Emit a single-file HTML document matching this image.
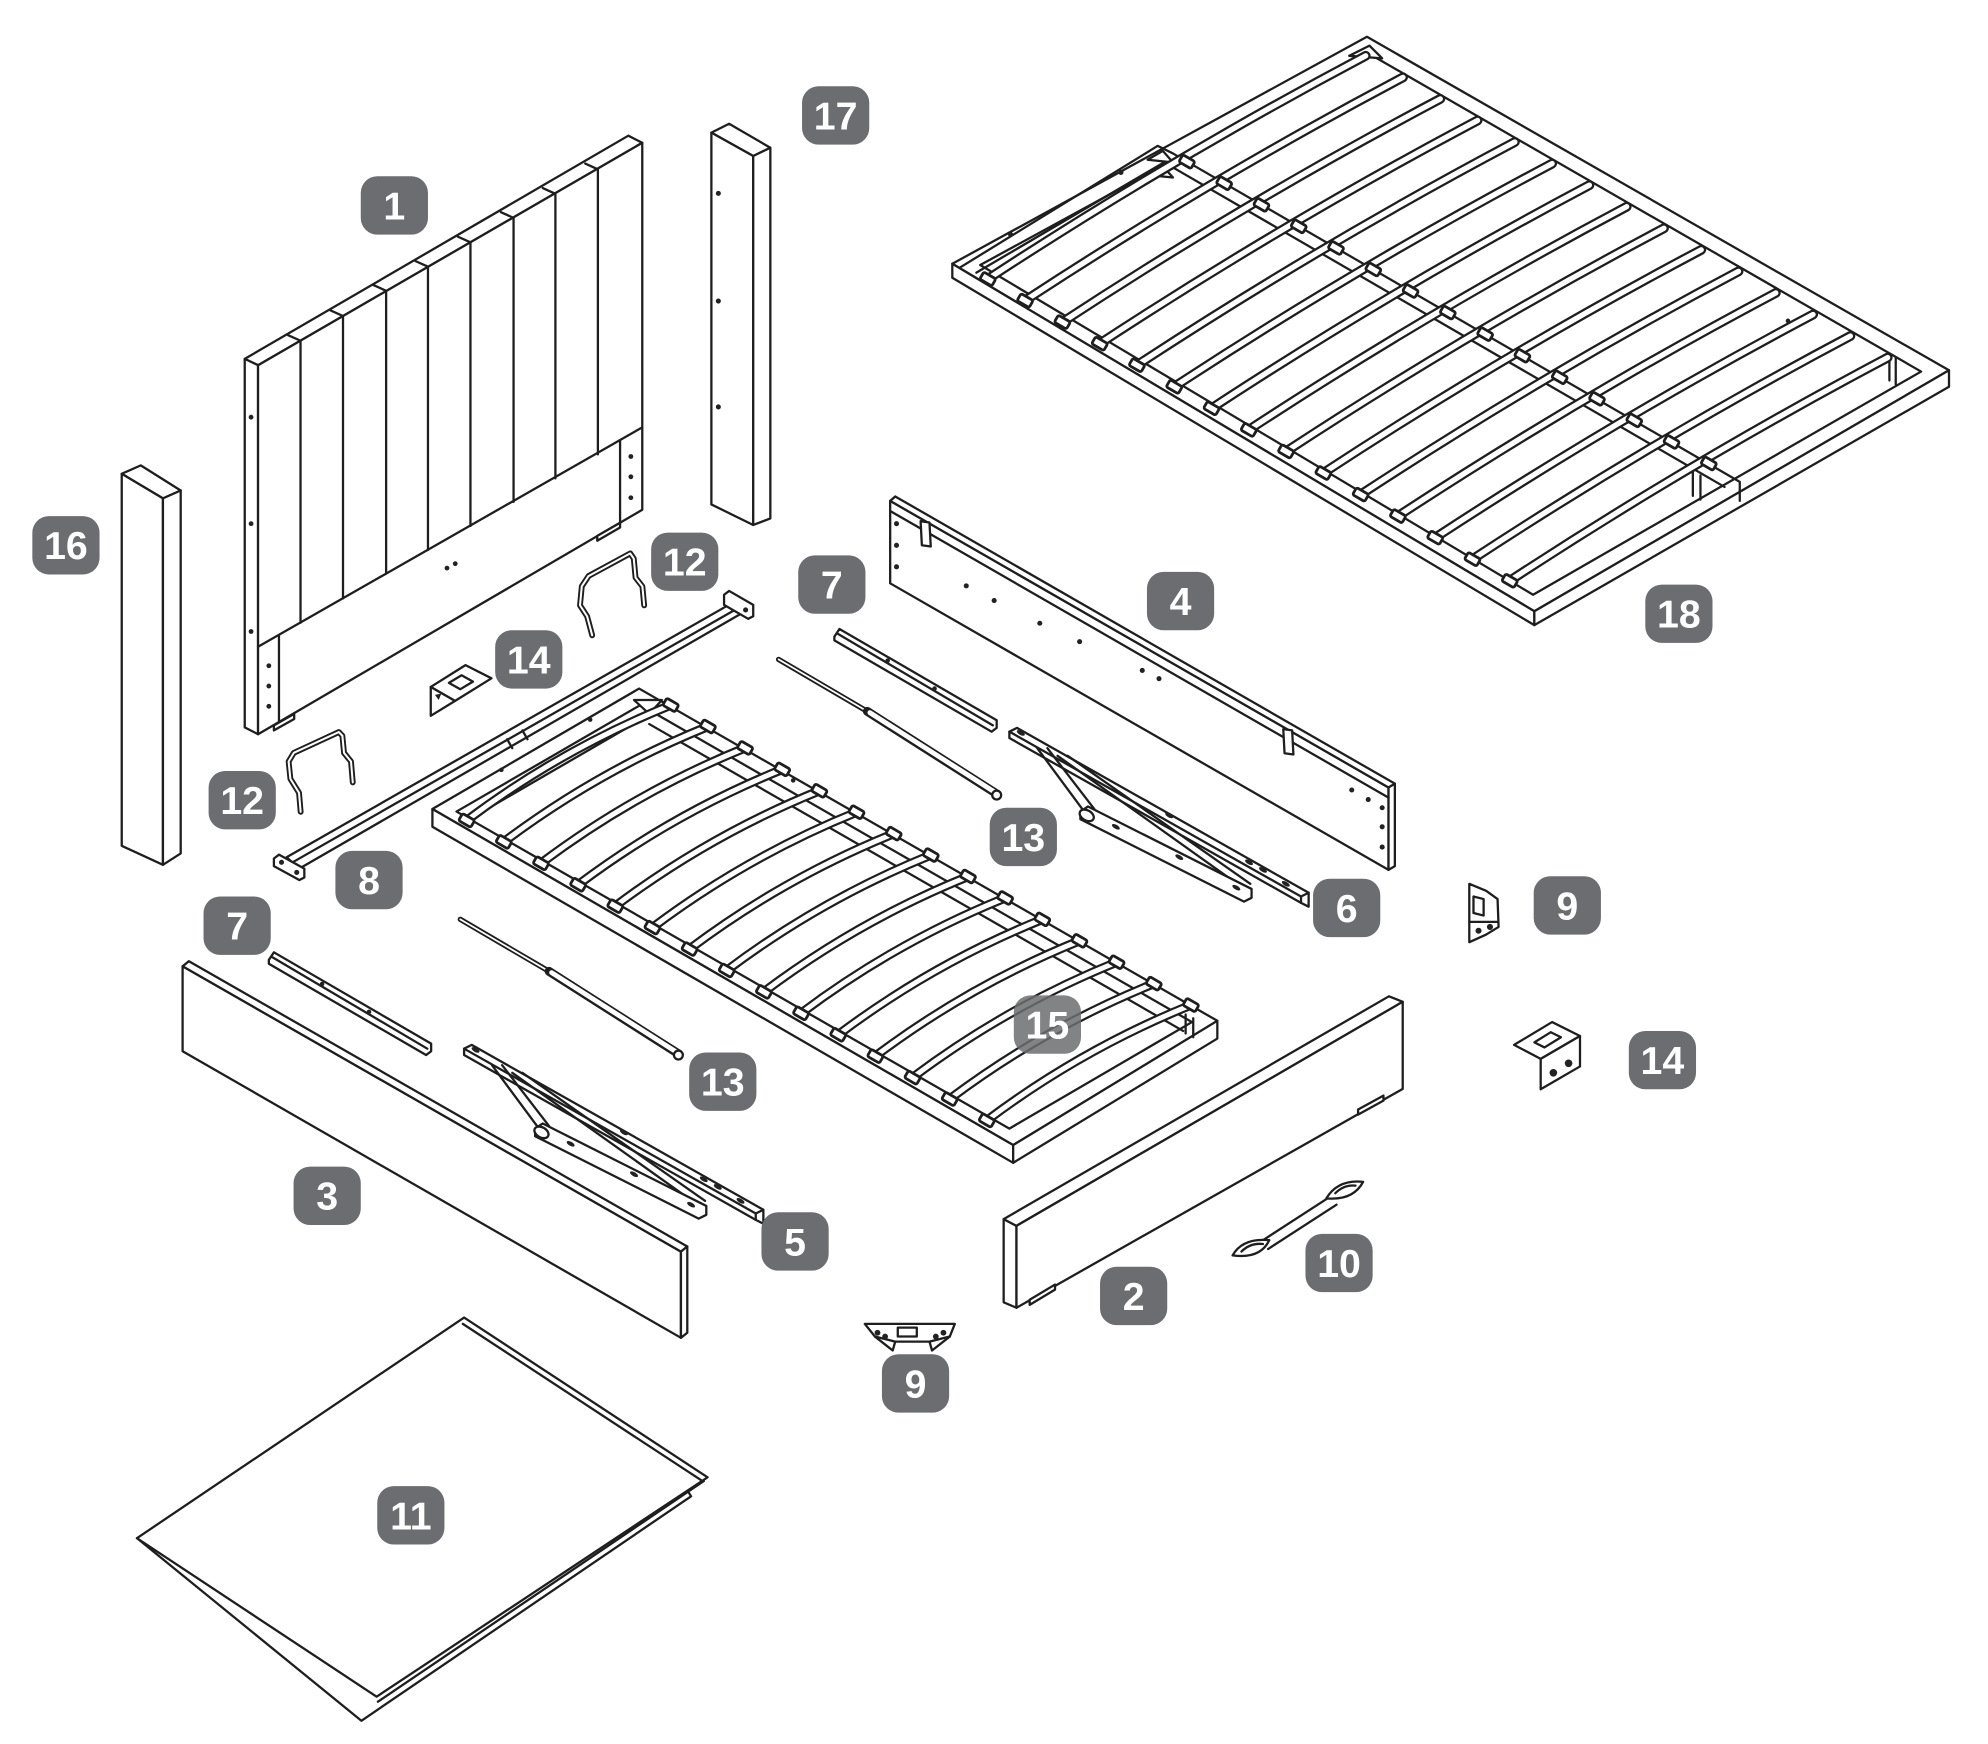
<!DOCTYPE html>
<html><head><meta charset="utf-8">
<style>
html,body{margin:0;padding:0;background:#fff;}
svg{display:block;}
.lb text{font-family:"Liberation Sans",Arial,sans-serif;font-weight:bold;font-size:31px;fill:#fff;text-anchor:middle;}
.lb rect{fill:#6c6d70;stroke:none;}
</style></head>
<body>
<svg width="1988" height="1744" viewBox="0 0 1556 1365" xmlns="http://www.w3.org/2000/svg">
<defs>
  <path id="sl18" d="M779,220 Q924,125 1077,44"/>
  <path id="sl15" d="M368,647 Q442.5,591 529,556"/>
  <rect id="ck" x="-5.5" y="-3.2" width="11" height="6.4" rx="1.5" transform="rotate(30)"/>
  <g id="g18">
    <use href="#sl18"/><use href="#sl18" x="29.4" y="17"/><use href="#sl18" x="58.8" y="34"/><use href="#sl18" x="88.2" y="51"/><use href="#sl18" x="117.6" y="68"/><use href="#sl18" x="147" y="85"/><use href="#sl18" x="176.4" y="102"/><use href="#sl18" x="205.8" y="119"/><use href="#sl18" x="235.2" y="136"/><use href="#sl18" x="264.6" y="153"/><use href="#sl18" x="294" y="170"/><use href="#sl18" x="323.4" y="187"/><use href="#sl18" x="352.8" y="204"/><use href="#sl18" x="382.2" y="221"/><use href="#sl18" x="411.6" y="238"/>
  </g>
  <g id="g15">
    <use href="#sl15"/><use href="#sl15" x="29.3" y="16.9"/><use href="#sl15" x="58.6" y="33.8"/><use href="#sl15" x="87.9" y="50.7"/><use href="#sl15" x="117.2" y="67.6"/><use href="#sl15" x="146.5" y="84.5"/><use href="#sl15" x="175.8" y="101.4"/><use href="#sl15" x="205.1" y="118.3"/><use href="#sl15" x="234.4" y="135.2"/><use href="#sl15" x="263.7" y="152.1"/><use href="#sl15" x="293" y="169"/><use href="#sl15" x="322.3" y="185.9"/><use href="#sl15" x="351.6" y="202.8"/><use href="#sl15" x="380.9" y="219.7"/><use href="#sl15" x="410.2" y="236.6"/>
  </g>
  <g id="ck18">
    <use href="#ck"/><use href="#ck" x="29.4" y="17"/><use href="#ck" x="58.8" y="34"/><use href="#ck" x="88.2" y="51"/><use href="#ck" x="117.6" y="68"/><use href="#ck" x="147" y="85"/><use href="#ck" x="176.4" y="102"/><use href="#ck" x="205.8" y="119"/><use href="#ck" x="235.2" y="136"/><use href="#ck" x="264.6" y="153"/><use href="#ck" x="294" y="170"/><use href="#ck" x="323.4" y="187"/><use href="#ck" x="352.8" y="204"/><use href="#ck" x="382.2" y="221"/><use href="#ck" x="411.6" y="238"/>
  </g>
  <g id="ck15">
    <use href="#ck"/><use href="#ck" x="29.3" y="16.9"/><use href="#ck" x="58.6" y="33.8"/><use href="#ck" x="87.9" y="50.7"/><use href="#ck" x="117.2" y="67.6"/><use href="#ck" x="146.5" y="84.5"/><use href="#ck" x="175.8" y="101.4"/><use href="#ck" x="205.1" y="118.3"/><use href="#ck" x="234.4" y="135.2"/><use href="#ck" x="263.7" y="152.1"/><use href="#ck" x="293" y="169"/><use href="#ck" x="322.3" y="185.9"/><use href="#ck" x="351.6" y="202.8"/><use href="#ck" x="380.9" y="219.7"/><use href="#ck" x="410.2" y="236.6"/>
  </g>
  <g id="p6">
    <polygon points="796,577 802,574 1032,704 1032,715 1026,712 796,582"/>
    <polyline points="796,577 1026,707 1032,704" fill="none"/>
    <line x1="1026" y1="707" x2="1026" y2="712"/>
    <line x1="818" y1="590" x2="855" y2="640"/>
    <line x1="826" y1="590" x2="863" y2="638"/>
    <line x1="834" y1="596" x2="980" y2="700"/>
    <line x1="842" y1="596" x2="986" y2="697"/>
    <polygon points="852,640 858,636 987,701 987,708 981,711 852,646"/>
    <ellipse cx="857" cy="643" rx="6" ry="4" transform="rotate(30 857 643)"/>
    <g fill="#222" stroke="none">
      <ellipse cx="805" cy="578" rx="3.5" ry="1.6" transform="rotate(30 805 578)"/>
      <ellipse cx="922" cy="643" rx="3.5" ry="1.6" transform="rotate(30 922 643)"/>
      <ellipse cx="985" cy="680" rx="3.5" ry="1.6" transform="rotate(30 985 680)"/>
      <ellipse cx="996" cy="686" rx="3.5" ry="1.6" transform="rotate(30 996 686)"/>
      <ellipse cx="1014" cy="697" rx="3.5" ry="1.6" transform="rotate(30 1014 697)"/>
      <ellipse cx="880" cy="652" rx="3.5" ry="1.6" transform="rotate(30 880 652)"/>
      <ellipse cx="930" cy="676" rx="3.5" ry="1.6" transform="rotate(30 930 676)"/>
      <ellipse cx="975" cy="700" rx="3.5" ry="1.6" transform="rotate(30 975 700)"/>
    </g>
  </g>
  <g id="p7">
    <polygon points="658,502 662,496 786,568 786,574 782,577 658,505"/>
    <line x1="661" y1="500" x2="783" y2="572"/>
    <g fill="#222" stroke="none"><circle cx="700" cy="521" r="1.8"/><circle cx="737" cy="543" r="1.8"/></g>
  </g>
  <g id="p13">
    <line x1="614" y1="520" x2="684" y2="561" stroke-width="4.2"/>
    <line x1="614" y1="520" x2="684" y2="561" stroke="#fff" stroke-width="1.4"/>
    <line x1="684" y1="561" x2="786" y2="626" stroke-width="7"/>
    <line x1="686" y1="562" x2="785" y2="625" stroke="#fff" stroke-width="3.8"/>
    <circle cx="786" cy="627" r="3.5"/>
  </g>
</defs>

<rect width="1556" height="1365" fill="#fff"/>

<g transform="scale(0.9925)">
<g fill="#fff" stroke="#1e1e1e" stroke-width="1.8" stroke-linejoin="round" stroke-linecap="round">

<!-- ===== Part 18 ===== -->
<polygon points="751,208 1078,29 1537,292 1210,482"/>
<polygon points="751,208 1210,482 1210,493 751,219"/>
<polygon points="1210,482 1537,292 1537,305 1210,493"/>
<polygon points="773,209 1079,42 1515,293 1209,469"/>
<polyline points="757,211 913,115 925,121 1372,380 1372,395" fill="none"/>
<polyline points="770,215 918,128 1360,384" fill="none"/>
<line x1="1335" y1="372" x2="1335" y2="391"/>
<line x1="1341" y1="375" x2="1341" y2="394"/>
<line x1="1490" y1="279" x2="1490" y2="300"/>
<line x1="1495" y1="282" x2="1495" y2="303"/>
<polygon points="1064,44 1080,36 1090,46" />
<polygon points="905,126 917,119 925,128"/>
<polygon points="905,138 917,131 925,140"/>
<g fill="#222" stroke="none"><circle cx="797" cy="185" r="2"/><circle cx="884" cy="136" r="2"/><circle cx="1410" cy="253" r="1.8"/></g>
<g fill="none" stroke="#1e1e1e" stroke-width="7.8"><use href="#g18"/></g>
<g fill="none" stroke="#fff" stroke-width="4.2"><use href="#g18"/></g>
<g stroke-width="2.2"><use href="#ck18" x="779" y="220"/><use href="#ck18" x="936" y="127.5"/></g>

<!-- ===== Part 17 ===== -->
<polygon points="561,104.6 575,97.6 607.5,116.5 594,123"/>
<polygon points="561,104.6 594,123 594,414 561,397.8"/>
<polygon points="594,123 607.5,116.5 607.5,408.8 594,414"/>
<g fill="#222" stroke="none"><circle cx="566.5" cy="152.5" r="2"/><circle cx="566.5" cy="237.4" r="2"/><circle cx="566.5" cy="320.9" r="2"/></g>

<!-- ===== Part 16 ===== -->
<polygon points="96,373.6 111,367 142.5,386.8 128.5,393"/>
<polygon points="96,373.6 128.5,393 128.5,682 96,667"/>
<polygon points="128.5,393 142.5,386.8 142.5,673 128.5,682"/>

<!-- ===== Part 1 headboard ===== -->
<polygon points="193,283 495.5,107 506.5,112.6 203.5,288"/>
<polygon points="193,283 203.5,288 203.5,579 193,573.6"/>
<polygon points="203.5,288 506.5,112.6 506.5,402 203.5,579"/>
<g fill="none">
<line x1="237" y1="268.7" x2="237" y2="491.1"/><line x1="237" y1="268.7" x2="227" y2="264.2"/>
<line x1="270.5" y1="249.2" x2="270.5" y2="471.9"/><line x1="270.5" y1="249.2" x2="260.5" y2="244.7"/>
<line x1="304.5" y1="229.3" x2="304.5" y2="452.4"/><line x1="304.5" y1="229.3" x2="294.5" y2="224.8"/>
<line x1="337.5" y1="210.3" x2="337.5" y2="433.7"/><line x1="337.5" y1="210.3" x2="327.5" y2="205.8"/>
<line x1="371" y1="191.1" x2="371" y2="414.8"/><line x1="371" y1="191.1" x2="361" y2="186.6"/>
<line x1="405" y1="171.8" x2="405" y2="395.8"/><line x1="405" y1="171.8" x2="395" y2="167.3"/>
<line x1="438" y1="152.8" x2="438" y2="377.2"/><line x1="438" y1="152.8" x2="428" y2="148.3"/>
<line x1="471.5" y1="133.5" x2="471.5" y2="358.3"/><line x1="471.5" y1="133.5" x2="461.5" y2="129"/>
<line x1="203.5" y1="510" x2="506.5" y2="337"/>
<line x1="220" y1="501" x2="220" y2="569.7"/>
<line x1="489" y1="347" x2="489" y2="412"/>
</g>
<polygon points="216,572 232,563 232,567 216,576"/>
<polygon points="471,422.6 489,412.2 489,416 471,426.4"/>
<g fill="#222" stroke="none">
<circle cx="198" cy="329" r="1.9"/><circle cx="198" cy="413" r="1.9"/><circle cx="198" cy="498" r="1.9"/>
<circle cx="212" cy="525" r="1.9"/><circle cx="212" cy="541" r="1.9"/><circle cx="212" cy="557" r="1.9"/>
<circle cx="497.5" cy="360" r="1.9"/><circle cx="497.5" cy="376" r="1.9"/><circle cx="497.5" cy="392.5" r="1.9"/>
<circle cx="352.5" cy="448" r="1.9"/><circle cx="359" cy="444.5" r="1.9"/>
</g>

<!-- ===== Part 12 (two) ===== -->
<g fill="none">
<polyline stroke-width="4.6" points="467,501 463,486 457.4,477.4 458.8,462.4 464.2,454.2 497,436.4 499.8,440.5 501.2,455.5 506.6,462.4 508,477.4"/>
<polyline stroke="#fff" stroke-width="1.6" points="467,501 463,486 457.4,477.4 458.8,462.4 464.2,454.2 497,436.4 499.8,440.5 501.2,455.5 506.6,462.4 508,477.4"/>
<polyline stroke-width="4.6" points="237.1,640.2 235.8,625.2 229,614.2 227.6,600.5 231.7,593.7 267.2,577.3 270,580.2 271.3,593.7 276.8,600.5 278.2,617"/>
<polyline stroke="#fff" stroke-width="1.6" points="237.1,640.2 235.8,625.2 229,614.2 227.6,600.5 231.7,593.7 267.2,577.3 270,580.2 271.3,593.7 276.8,600.5 278.2,617"/>
</g>

<!-- ===== Part 14 (upper) ===== -->
<polygon points="339.7,541.7 358.9,552.7 339.7,564.5"/>
<polygon points="339.7,541.7 367.1,524.5 387.6,534.9 358.9,552.7"/>
<polygon points="354,538.5 364,532.5 373,537.5 363,543.5"/>
<polygon points="343,548 348,547 346,552" fill="#222" stroke="none"/>

<!-- ===== Part 8 ===== -->
<polygon points="226,676 580,474 586,483 236,685"/>
<line x1="229" y1="681" x2="583" y2="479"/>
<line x1="400" y1="583" x2="404" y2="590"/>
<line x1="412" y1="576" x2="416" y2="583"/>
<polygon points="571,469 575,466 594,477 594,486 590,488 571,477"/>
<polygon points="216,677 220,674 240,685 240,692 236,694 216,683"/>
<g fill="#222" stroke="none"><circle cx="588" cy="481" r="2"/><circle cx="222" cy="680" r="2"/><circle cx="234" cy="688" r="2"/></g>

<!-- ===== Part 4 ===== -->
<polygon points="702,395 1095,621 1095,686 702,460"/>
<polygon points="702,395 706,391.5 1100,618 1095,621"/>
<polygon points="1095,621 1100,618 1100,683 1095,686"/>
<line x1="702" y1="403" x2="1095" y2="629"/>
<polygon points="726,411 733,412 734,431 727,430"/>
<polygon points="1012,575 1019,576 1020,595 1013,594"/>
<g fill="#222" stroke="none">
<circle cx="707" cy="413" r="2"/><circle cx="707" cy="430" r="2"/><circle cx="707" cy="447" r="2"/>
<circle cx="762" cy="462" r="2"/><circle cx="784" cy="473.6" r="2"/><circle cx="820" cy="491.5" r="2"/><circle cx="851.4" cy="506" r="2"/><circle cx="900.8" cy="528.7" r="2"/><circle cx="914" cy="535.2" r="2"/>
<circle cx="1066" cy="623" r="2"/><circle cx="1079" cy="630.5" r="2"/><circle cx="1090" cy="637" r="2"/><circle cx="1090" cy="652" r="2"/><circle cx="1090" cy="668" r="2"/>
</g>

<!-- ===== Part 7 (two) & 13 (two) ===== -->
<use href="#p7"/>
<use href="#p7" x="-446" y="255"/>
<use href="#p13"/>
<use href="#p13" x="-251" y="205"/>

<!-- ===== Part 6 and 5 ===== -->
<use href="#p6"/>
<use href="#p6" x="-430" y="250"/>

<!-- ===== Part 15 ===== -->
<polygon points="341,638 504,543 960,805 799,903"/>
<polygon points="341,638 799,903 799,917 341,652"/>
<polygon points="799,903 960,805 960,819 799,917"/>
<polygon points="360,640 505,556 940,806 796,890"/>
<line x1="512" y1="571" x2="933" y2="813"/>
<line x1="372" y1="645" x2="510" y2="565"/>
<polygon points="500,552 522,552 512,563"/>
<line x1="935" y1="800" x2="935" y2="815"/>
<line x1="941" y1="803" x2="941" y2="818"/>
<g fill="#222" stroke="none"><circle cx="465.4" cy="567.5" r="1.8"/><circle cx="395.4" cy="607.1" r="1.8"/><circle cx="625.5" cy="615.4" r="1.8"/></g>
<g fill="none" stroke="#1e1e1e" stroke-width="7.4"><use href="#g15"/></g>
<g fill="none" stroke="#fff" stroke-width="3.9"><use href="#g15"/></g>
<g stroke-width="2.2"><use href="#ck15" x="368" y="647"/><use href="#ck15" x="529" y="556"/></g>

<!-- ===== Part 9 (right) ===== -->
<polygon points="1158.7,697 1172,702.5 1181,709 1181.8,731 1172,737 1158.7,743"/>
<polygon points="1162,707 1170,709 1170,722 1162,720"/>
<line x1="1158.7" y1="727" x2="1181.5" y2="727"/>
<g fill="#222" stroke="none"><circle cx="1166" cy="734" r="2.4"/><circle cx="1175" cy="731" r="2.4"/></g>

<!-- ===== Part 14 (right) ===== -->
<polygon points="1194,824 1224,806 1246,817 1215,835"/>
<polygon points="1215,835 1246,817 1246,841 1215,859"/>
<polygon points="1210,822 1223,814 1231,818 1218,826"/>
<g fill="#222" stroke="none"><circle cx="1225" cy="846" r="3"/><circle cx="1237" cy="838.5" r="3"/></g>

<!-- ===== Part 2 ===== -->
<polygon points="791.5,961.4 801.6,966.7 801.6,1031.3 791.5,1027"/>
<polygon points="791.5,961.4 1095.3,785.7 1106.2,790 801.6,966.7"/>
<polygon points="801.6,966.7 1106.2,790 1106.2,858.7 801.6,1031.3"/>
<polygon points="812,1025 832,1013 832,1017 812,1029"/>
<polygon points="1071,875 1091,864 1091,868 1071,879"/>

<!-- ===== Part 10 ===== -->
<line x1="996" y1="978" x2="1050" y2="943"/>
<line x1="1000" y1="985" x2="1054" y2="950"/>
<path d="M972,990 Q980,976 1001,978 Q994,993 972,990 Z"/>
<path d="M979,987 Q986,980 996,981"/>
<path d="M1046,945 Q1055,930 1075,932 Q1067,947 1046,945 Z"/>
<path d="M1053,941 Q1060,934 1069,935"/>

<!-- ===== Part 3 ===== -->
<polygon points="144,762 537,987 537,1055 144,829"/>
<polygon points="144,762 149,758 542,983 537,987"/>
<polygon points="537,987 542,983 542,1051 537,1055"/>

<!-- ===== Part 9 (bottom) ===== -->
<polygon points="682,1044 753,1044 749,1054 735,1065 733,1058 706,1058 704,1065 690,1054"/>
<polygon points="708,1047 723,1047 723,1054 708,1054"/>
<line x1="690" y1="1054" x2="706" y2="1058"/>
<line x1="749" y1="1054" x2="733" y2="1058"/>
<g fill="#222" stroke="none"><circle cx="692" cy="1051" r="2.3"/><circle cx="698" cy="1054" r="2.3"/><circle cx="738" cy="1054" r="2.3"/><circle cx="744" cy="1051" r="2.3"/></g>

<!-- ===== Part 11 ===== -->
<polygon points="108,1213 285,1357 545,1180 540,1172"/>
<polygon points="108,1213 366,1039 558,1165 297,1338"/>
<line x1="365" y1="1044" x2="554" y2="1168"/>
<line x1="555" y1="1168" x2="298" y2="1342"/>

</g>

<!-- ===== Labels ===== -->
<g class="lb">
<g><rect x="632.5" y="68" width="53" height="46" rx="13"/><text x="659" y="102">17</text></g>
<g><rect x="284.5" y="139" width="53" height="46" rx="13"/><text x="311" y="173">1</text></g>
<g><rect x="25.5" y="407" width="53" height="46" rx="13"/><text x="52" y="441">16</text></g>
<g><rect x="513.5" y="420" width="53" height="46" rx="13"/><text x="540" y="454">12</text></g>
<g><rect x="629.5" y="438" width="53" height="46" rx="13"/><text x="656" y="472">7</text></g>
<g><rect x="904.5" y="451" width="53" height="46" rx="13"/><text x="931" y="485">4</text></g>
<g><rect x="1297.5" y="461" width="53" height="46" rx="13"/><text x="1324" y="495">18</text></g>
<g><rect x="390.5" y="497" width="53" height="46" rx="13"/><text x="417" y="531">14</text></g>
<g><rect x="164.5" y="608" width="53" height="46" rx="13"/><text x="191" y="642">12</text></g>
<g><rect x="780.5" y="637" width="53" height="46" rx="13"/><text x="807" y="671">13</text></g>
<g><rect x="264.5" y="671" width="53" height="46" rx="13"/><text x="291" y="705">8</text></g>
<g><rect x="1035.5" y="693" width="53" height="46" rx="13"/><text x="1062" y="727">6</text></g>
<g><rect x="1209.5" y="691" width="53" height="46" rx="13"/><text x="1236" y="725">9</text></g>
<g><rect x="160.5" y="707" width="53" height="46" rx="13"/><text x="187" y="741">7</text></g>
<g><rect x="799.5" y="785" width="53" height="46" rx="13" fill-opacity="0.85"/><text x="826" y="819">15</text></g>
<g><rect x="543.5" y="830" width="53" height="46" rx="13"/><text x="570" y="864">13</text></g>
<g><rect x="1284.5" y="813" width="53" height="46" rx="13"/><text x="1311" y="847">14</text></g>
<g><rect x="231.5" y="920" width="53" height="46" rx="13"/><text x="258" y="954">3</text></g>
<g><rect x="600.5" y="956" width="53" height="46" rx="13"/><text x="627" y="990">5</text></g>
<g><rect x="1029.5" y="973" width="53" height="46" rx="13"/><text x="1056" y="1007">10</text></g>
<g><rect x="867.5" y="999" width="53" height="46" rx="13"/><text x="894" y="1033">2</text></g>
<g><rect x="695.5" y="1068" width="53" height="46" rx="13"/><text x="722" y="1102">9</text></g>
<g><rect x="297.5" y="1172" width="53" height="46" rx="13"/><text x="324" y="1206">11</text></g>
</g>
</g>
</svg>
</body></html>
